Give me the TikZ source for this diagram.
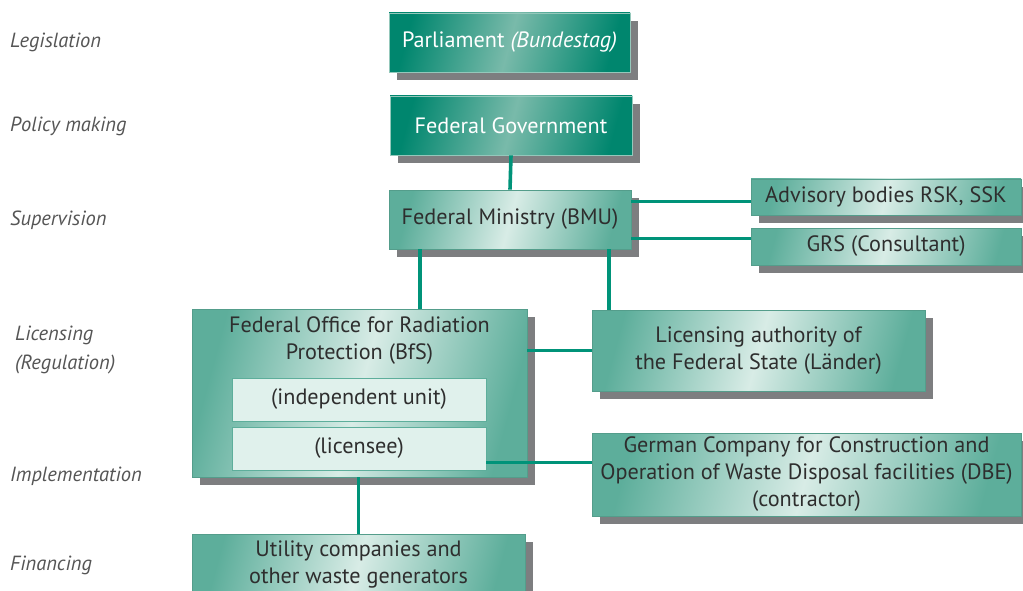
\documentclass[tikz,border=0pt]{standalone}
\usepackage{fontspec}
\setmainfont{PT Sans}
\usetikzlibrary{shadows}
\definecolor{tealdark}{HTML}{00866E}
\definecolor{tealmid}{HTML}{79BAAA}
\definecolor{lightedge}{HTML}{5DAE9B}
\definecolor{lightmid}{HTML}{D8ECE6}
\definecolor{innerfill}{HTML}{E0F1EC}
\definecolor{linecol}{HTML}{009379}
\definecolor{shadowcol}{HTML}{7D7E80}
\definecolor{labelcol}{HTML}{555555}
\definecolor{textcol}{HTML}{2E2E2E}
\tikzset{
  shadowed/.style={general shadow={fill=shadowcol, shadow xshift=8pt, shadow yshift=-8pt}},
  darkbox/.style={shadowed, draw=tealmid!80!white, line width=0.8pt,
    left color=tealdark, right color=tealdark, middle color=tealmid, shading angle=75,
    text=white, font=\fontsize{22.2}{26}\selectfont, inner sep=0pt, align=center},
  lightbox/.style={shadowed, draw=lightedge!90!black, line width=0.8pt,
    left color=lightedge, right color=lightedge, middle color=lightmid, shading angle=75,
    text=textcol, font=\fontsize{22.2}{27}\selectfont, inner sep=0pt, align=center},
  innerbox/.style={draw=lightedge, line width=0.8pt, fill=innerfill,
    text=textcol, font=\fontsize{22.2}{26}\selectfont, inner sep=0pt},
  boxtext/.style={text=textcol, font=\fontsize{22.2}{27}\selectfont, align=center, anchor=north, inner sep=0pt},
  rowlabel/.style={anchor=base west, text=labelcol, font=\fontsize{20.5}{29}\selectfont\itshape, align=left, inner sep=0pt},
  conn/.style={draw=linecol, line width=3.6pt},
}
\begin{document}
\begin{tikzpicture}[x=1pt,y=-1pt]
\useasboundingbox (0,0) rectangle (1023,591);
\clip (0,0) rectangle (1023,591);
% row labels
\node[rowlabel] (l1) at (10,48) {Legislation};
\node[rowlabel] (l2) at (10,132) {Policy making};
\node[rowlabel] (l3) at (10,225) {Supervision};
\node[rowlabel, anchor=north west] (l4) at (15,326) {Licensing\\(Regulation)};
\node[rowlabel] (l5) at (10,481) {Implementation};
\node[rowlabel] (l6) at (10,570) {Financing};
% boxes
\node[darkbox, minimum width=241pt, minimum height=59pt] (parl) at (509.5,42.5) {\raisebox{-2pt}{Parliament \textit{(Bundestag)}}};
\node[darkbox, minimum width=242pt, minimum height=59pt] (gov) at (511,125.5) {Federal Government};
\node[lightbox, minimum width=242pt, minimum height=59pt] (bmu) at (510,219.5) {Federal Ministry (BMU)};
\node[lightbox, minimum width=270pt, minimum height=36pt] (adv) at (886,197) {Advisory bodies RSK, SSK};
\node[lightbox, minimum width=270pt, minimum height=37pt] (grs) at (886,246.5) {GRS (Consultant)};
\node[lightbox, minimum width=335pt, minimum height=168pt] (bfs) at (359.5,393) {};
\node[boxtext] (bfstext) at (359.5,316) {Federal Office for Radiation\\Protection (BfS)};
\node[innerbox, minimum width=254pt, minimum height=43pt] (indep) at (359,399.5) {(independent unit)};
\node[innerbox, minimum width=254pt, minimum height=43pt] (lic) at (359,448.5) {(licensee)};
\node[lightbox, minimum width=333pt, minimum height=81pt] (auth) at (758.5,350.5) {Licensing authority of\\the Federal State (Länder)};
\node[lightbox, minimum width=429pt, minimum height=83pt] (dbe) at (806.5,474.5) {German Company for Construction and\\Operation of Waste Disposal facilities (DBE)\\(contractor)};
\node[lightbox, minimum width=333pt, minimum height=62pt] (util) at (358.5,565) {};
\node[boxtext] (utiltext) at (358.5,541) {Utility companies and\\other waste generators};
% connectors
\draw[conn] (gov.south) -- (bmu.north);
\path ([yshift=-12pt]bmu.north east) coordinate (b1);
\path ([yshift=-49pt]bmu.north east) coordinate (b2);
\draw[conn] (b1) -- (b1 -| adv.west);
\draw[conn] (b2) -- (b2 -| grs.west);
\path ([xshift=-90pt]bmu.south) coordinate (b3);
\path ([xshift=99pt]bmu.south) coordinate (b4);
\draw[conn] (b3) -- (b3 |- bfs.north);
\draw[conn] (b4) -- (b4 |- auth.north);
\draw[conn] (auth.west) -- (auth.west -| bfs.east);
\path ([yshift=-14pt]lic.east) coordinate (c1);
\draw[conn] (c1) -- (c1 -| dbe.west);
\draw[conn] ([xshift=-1pt]bfs.south) -- ([xshift=-1pt]bfs.south |- util.north);
\end{tikzpicture}
\end{document}
